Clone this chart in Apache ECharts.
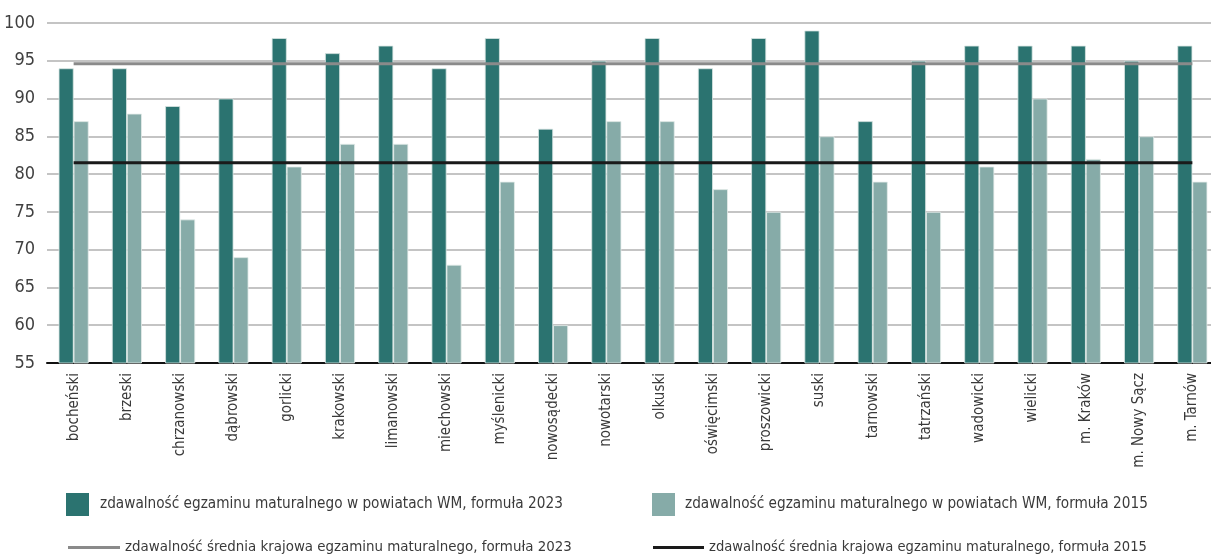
<!DOCTYPE html>
<html><head><meta charset="utf-8">
<script src="https://cdn.jsdelivr.net/npm/echarts@6/dist/echarts.min.js"></script>
<style>html,body{margin:0;padding:0;background:#fff}#c{width:1211px;height:555px}</style>
</head><body><div id="c"></div>
<script>
const categories = ['bocheński','brzeski','chrzanowski','dąbrowski','gorlicki','krakowski','limanowski','miechowski','myślenicki','nowosądecki','nowotarski','olkuski','oświęcimski','proszowicki','suski','tarnowski','tatrzański','wadowicki','wielicki','m. Kraków','m. Nowy Sącz','m. Tarnów'];
const values2023 = [94,94,89,90,98,96,97,94,98,86,95,98,94,98,99,87,95,97,97,97,95,97];
const values2015 = [87,88,74,69,81,84,84,68,79,60,87,87,78,75,85,79,75,81,90,82,85,79];
const avg2023 = 94.6;
const avg2015 = 81.5;
const names = [
  'zdawalność egzaminu maturalnego w powiatach WM, formuła 2023',
  'zdawalność egzaminu maturalnego w powiatach WM, formuła 2015',
  'zdawalność średnia krajowa egzaminu maturalnego, formuła 2023',
  'zdawalność średnia krajowa egzaminu maturalnego, formuła 2015'
];
const FONT = '"DejaVu Sans Condensed","Liberation Sans",sans-serif';
const txt = {fontFamily: FONT, fontSize: 14, color: '#3a3a3a'};
const chart = echarts.init(document.getElementById('c'), null, {renderer: 'canvas'});
function leg(name, left, top, w, h, textPad, fs) {
  return {data: [name], left: left, top: top, itemWidth: w, itemHeight: h, itemGap: 0, icon: 'rect',
    itemStyle: {borderWidth: 0},
    textStyle: Object.assign({}, txt, {fontSize: fs, padding: [0,0,0,textPad]}), selectedMode: false, padding: 0};
}
chart.setOption({
  animation: false,
  grid: {left: 47, width: 1172, top: 23, bottom: 192, outerBoundsMode: 'none'},
  legend: [
    leg(names[0], 66, 493, 23, 23, 6, 15.2),
    leg(names[1], 652, 493, 23, 23, 5, 15.2),
    leg(names[2], 68, 540, 52, 3, 0, 14.9),
    leg(names[3], 653, 540, 51, 3, 0, 14.6)
  ],
  xAxis: {
    type: 'category', data: categories,
    axisTick: {show: false},
    axisLine: {lineStyle: {color: '#111', width: 2}},
    axisLabel: Object.assign({}, txt, {fontSize: 15, rotate: 90, margin: 10, interval: 0})
  },
  yAxis: {
    type: 'value', min: 55, max: 100, interval: 5,
    axisLine: {show: false}, axisTick: {show: false},
    axisLabel: Object.assign({}, txt, {fontSize: 18, margin: 12, color: '#404040'}),
    splitLine: {lineStyle: {color: '#b0b0b0', width: 1.5}}
  },
  series: [
    {name: names[0], type: 'bar', data: values2023, barWidth: 15, barGap: '0%',
     itemStyle: {color: '#2b7370', borderColor: '#d8e4e2', borderWidth: 0.8}},
    {name: names[1], type: 'bar', data: values2015, barWidth: 15, barGap: '0%',
     itemStyle: {color: '#86aba8', borderColor: '#e4ecea', borderWidth: 0.8}},
    {name: names[2], type: 'line', data: categories.map(() => avg2023), symbol: 'none', z: 5,
     lineStyle: {color: '#8a8a8a', width: 3}, itemStyle: {color: '#8a8a8a'}},
    {name: names[3], type: 'line', data: categories.map(() => avg2015), symbol: 'none', z: 5,
     lineStyle: {color: '#1a1a1a', width: 3}, itemStyle: {color: '#1a1a1a'}}
  ]
});
</script></body></html>
